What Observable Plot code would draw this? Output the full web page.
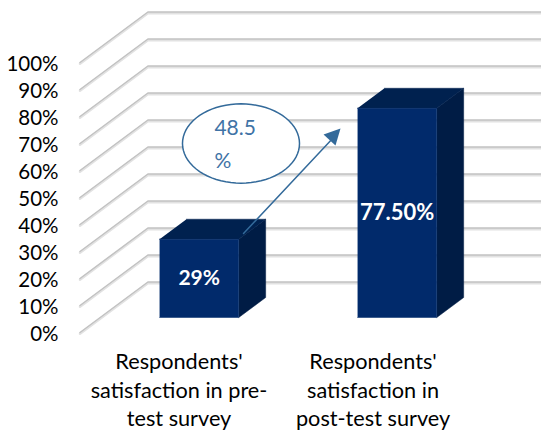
<!DOCTYPE html>
<html>
<head>
<meta charset="utf-8">
<script src="https://cdn.jsdelivr.net/npm/d3@7"></script>
<script src="https://cdn.jsdelivr.net/npm/@observablehq/plot@0.6"></script>
<style>
  html, body { margin: 0; padding: 0; background: #fff; overflow: hidden; }
</style>
</head>
<body>
<div id="chart"></div>
<script>
// Survey results
const categories = ["pre", "post"];
const values = [29, 77.5];
const valueLabels = ["29%", "77.50%"];
const labelSizes = [21, 22];
const categoryLabels = [
  "Respondents'\nsatisfaction in pre-\ntest survey",
  "Respondents'\nsatisfaction in\npost-test survey"
];
const labelOffsets = [0, 0.98];
const yTicks = [0, 10, 20, 30, 40, 50, 60, 70, 80, 90, 100];

// Oblique 3D: depth 0 is the front of the floor, depth 1 the back wall
const depthX = 0.343;
const depthY = 18.7;
const barFront = 0.297;
const barBack = 0.693;
const barHalf = 0.2;
const project = (x, v, depth) => ({x: x + depth * depthX, y: v + depth * depthY});

// Gridlines run along the side wall, then across the back wall
const gridLines = yTicks.flatMap((v) => [
  {v, ...project(-0.5, v, 0)},
  {v, ...project(-0.5, v, 1)},
  {v, ...project(1.5, v, 1)}
]);

function face(corners) {
  return corners.map(([x, v, depth]) => project(x, v, depth));
}
function barFaces(i) {
  const l = i - barHalf, r = i + barHalf, t = values[i];
  return {
    front: face([[l, 0, barFront], [r, 0, barFront], [r, t, barFront], [l, t, barFront]]),
    side: face([[r, 0, barFront], [r, 0, barBack], [r, t, barBack], [r, t, barFront]]),
    top: face([[l, t, barFront], [r, t, barFront], [r, t, barBack], [l, t, barBack]])
  };
}
const barMarks = (i) => {
  const f = barFaces(i);
  return [
    Plot.line(f.side, {x: "x", y: "y", fill: "#001c45", stroke: "#001c45", strokeWidth: 0.5}),
    Plot.line(f.top, {x: "x", y: "y", fill: "#00214f", stroke: "#00214f", strokeWidth: 0.5}),
    Plot.line(f.front, {x: "x", y: "y", fill: "#012a6b", stroke: "#012a6b", strokeWidth: 0.5})
  ];
};

// Callout for the gain between the two surveys
const gainLines = ["48.5", "%"];
const gainY = [75.5, 63.5];
const ellipseCentre = {x: 0.3131, y: 70};
const ellipseRadius = {x: 0.2955, y: 14.7};
const ellipse = d3.range(0, 73).map((k) => {
  const a = (k / 72) * 2 * Math.PI;
  return {
    x: ellipseCentre.x + ellipseRadius.x * Math.cos(a),
    y: ellipseCentre.y + ellipseRadius.y * Math.sin(a)
  };
});
const arrowShaft = [{x: 0.3258, y: 36.67}, {x: 0.765, y: 71}];
const arrowHead = [{x: 0.8157, y: 75.56}, {x: 0.73, y: 73.33}, {x: 0.7904, y: 69.26}];
const callout = "#336a9a";

const chart = Plot.plot({
  width: 541,
  height: 431,
  marginLeft: 60,
  marginTop: 0,
  marginRight: 0,
  marginBottom: 0,
  style: {fontFamily: "Lato, sans-serif", fontSize: "20px", color: "#000", background: "#fff"},
  x: {domain: [-0.5, 1.5], range: [79.5, 475.5], axis: null},
  y: {domain: [0, 100], range: [332, 62], axis: null},
  marks: [
    Plot.line(gridLines, {x: "x", y: "y", z: "v", stroke: "#e2e2e2", strokeWidth: 2.4, dy: 1.2}),
    Plot.line(gridLines, {x: "x", y: "y", z: "v", stroke: "#c2c2c2", strokeWidth: 1.5}),
    ...barMarks(0),
    Plot.line(ellipse, {x: "x", y: "y", fill: "#fff", stroke: callout, strokeWidth: 1.5}),
    Plot.text(gainLines, {
      x: ellipseCentre.x - 0.1341, y: (d, i) => gainY[i], text: (d) => d,
      textAnchor: "start", fill: "#3f73a6", fontSize: 21
    }),
    Plot.line(arrowShaft, {x: "x", y: "y", stroke: callout, strokeWidth: 1.5}),
    Plot.line(arrowHead, {x: "x", y: "y", fill: callout}),
    ...barMarks(1),
    Plot.text(values, {
      x: (d, i) => project(i, d / 2, barFront).x,
      y: (d, i) => project(i, d / 2, barFront).y,
      text: (d, i) => valueLabels[i],
      fill: "#fff", fontWeight: 700,
      fontSize: (d, i) => labelSizes[i]
    }),
    Plot.axisY({
      ticks: yTicks, tickFormat: (d) => `${d}%`, tickSize: 0, tickPadding: 2,
      label: null, fontSize: 20.5, fill: "#000", dy: 1.5
    }),
    Plot.text(categoryLabels, {
      x: (d, i) => labelOffsets[i],
      y: -6.2,
      text: (d) => d,
      lineAnchor: "top", lineHeight: 1.31,
      fontSize: 21.7, fill: "#000"
    })
  ]
});
document.getElementById("chart").append(chart);
</script>
</body>
</html>
